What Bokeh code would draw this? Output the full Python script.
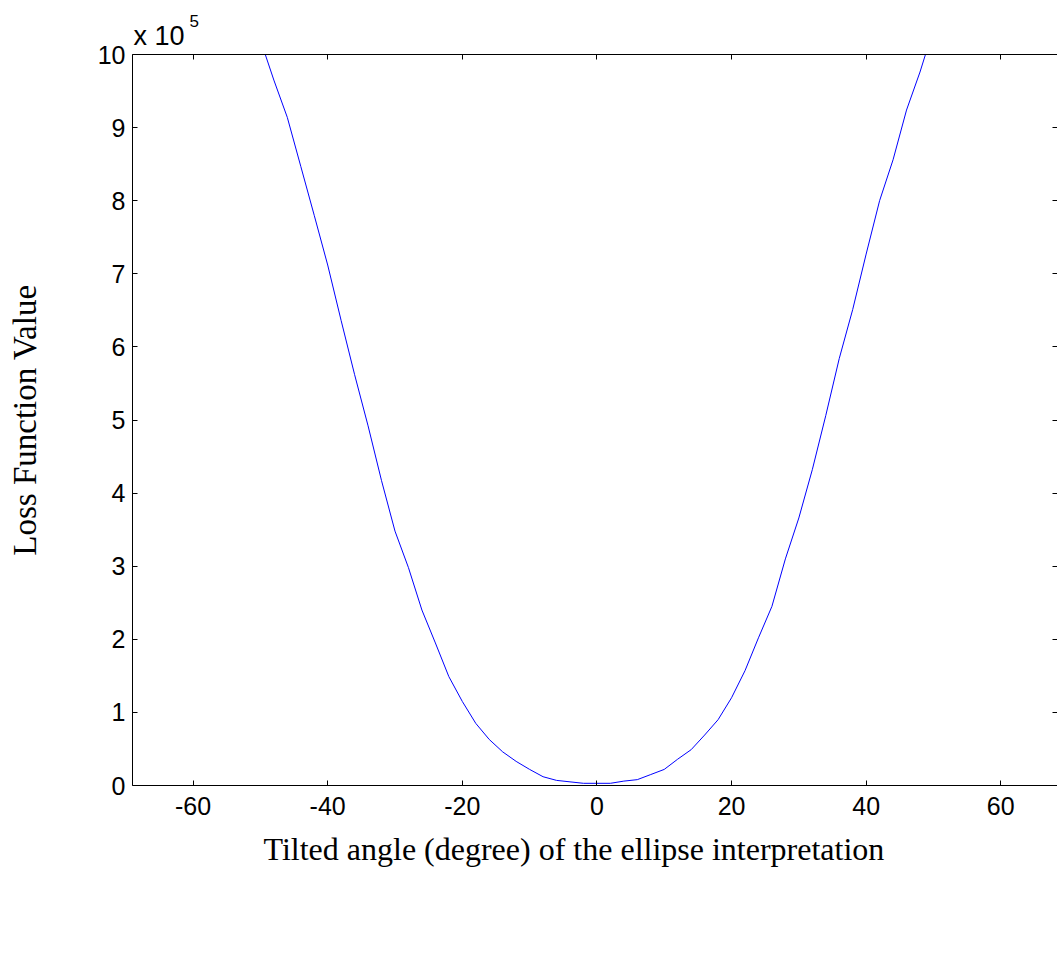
from bokeh.plotting import figure
from bokeh.models import Range1d, LinearAxis, FixedTicker, Title, CustomJSTickFormatter
from bokeh.embed import file_html
from bokeh.resources import INLINE

# Tilted angle (degree) and loss value in units of 10^5
angle = [-52, -50, -48, -46, -44, -42, -40, -38, -36, -34, -32, -30, -28, -26, -24, -22,
         -20, -18, -16, -14, -12, -10, -8, -6, -4, -2, 0,
         2, 4, 6, 8, 10, 12, 14, 16, 18, 20, 22, 24, 26, 28, 30, 32, 34, 36, 38, 40,
         42, 44, 46, 48, 50, 52]
loss_e5 = [10.9, 10.2, 9.65, 9.14, 8.47, 7.80, 7.12, 6.36, 5.62, 4.92, 4.17, 3.48, 2.98, 2.40, 1.95, 1.49,
           1.15, 0.85, 0.63, 0.46, 0.33, 0.22, 0.12, 0.07, 0.05, 0.03, 0.03,
           0.03, 0.06, 0.08, 0.15, 0.22, 0.36, 0.49, 0.69, 0.90, 1.20, 1.57, 2.02, 2.45, 3.10, 3.66,
           4.32, 5.06, 5.84, 6.51, 7.27, 8.00, 8.56, 9.24, 9.76, 10.35, 10.95]
x_ticks = [-60, -40, -20, 0, 20, 40, 60]
y_ticks = [0, 1, 2, 3, 4, 5, 6, 7, 8, 9, 10]

p = figure(width=1057, height=958, output_backend="svg", toolbar_location=None,
           x_range=Range1d(-69.0, 68.43), y_range=Range1d(0, 10),
           min_border_left=132, min_border_right=0, min_border_top=54, min_border_bottom=173,
           x_axis_location=None, y_axis_location=None)
p.title = None
p.outline_line_color = None
p.xgrid.grid_line_color = None
p.ygrid.grid_line_color = None
p.background_fill_color = "white"
p.border_fill_color = "white"

p.line(angle, loss_e5, line_color="#0000FF", line_width=1)

blank = CustomJSTickFormatter(code="return ''")
plain = CustomJSTickFormatter(code="return String(tick)")

def style(ax, labels=True):
    ax.axis_line_color = "black"
    ax.axis_line_width = 1
    ax.major_tick_in = 5
    ax.major_tick_out = 0
    ax.major_tick_line_color = "black"
    ax.minor_tick_line_color = None
    if labels:
        ax.formatter = plain
        ax.major_label_text_font = "Liberation Sans"
        ax.major_label_text_font_size = "25px"
        ax.major_label_text_color = "black"
    else:
        ax.formatter = blank
        ax.major_label_text_font_size = "0px"
        ax.major_label_standoff = 0

xb = LinearAxis(ticker=FixedTicker(ticks=x_ticks))
style(xb)
xb.major_label_standoff = 11
p.add_layout(xb, "below")

yl = LinearAxis(ticker=FixedTicker(ticks=y_ticks))
style(yl)
yl.major_label_standoff = 7
yl.axis_label = "Loss Function Value"
yl.axis_label_text_font = "Liberation Serif"
yl.axis_label_text_font_size = "33px"
yl.axis_label_text_font_style = "normal"
yl.axis_label_text_color = "black"
yl.axis_label_standoff = 52
p.add_layout(yl, "left")

xt = LinearAxis(ticker=FixedTicker(ticks=x_ticks))
style(xt, labels=False)
p.add_layout(xt, "above")

yr = LinearAxis(ticker=FixedTicker(ticks=y_ticks))
style(yr, labels=False)
yr.axis_line_color = None
p.add_layout(yr, "right")

xlab = Title(text="Tilted angle (degree) of the ellipse interpretation", align="left",
             offset=131, standoff=23, text_font="Liberation Serif", text_font_size="32px",
             text_font_style="normal", text_color="black")
p.add_layout(xlab, "below")

t1 = Title(text="x 10", align="left", offset=1, standoff=8,
           text_font="Liberation Sans", text_font_size="27px", text_font_style="normal",
           text_color="black")
p.add_layout(t1, "above")
t2 = Title(text="5", align="left", offset=57, standoff=-24,
           text_font="Liberation Sans", text_font_size="17px", text_font_style="normal",
           text_color="black")
p.add_layout(t2, "above")

open("out.html", "w").write(file_html(p, INLINE))
